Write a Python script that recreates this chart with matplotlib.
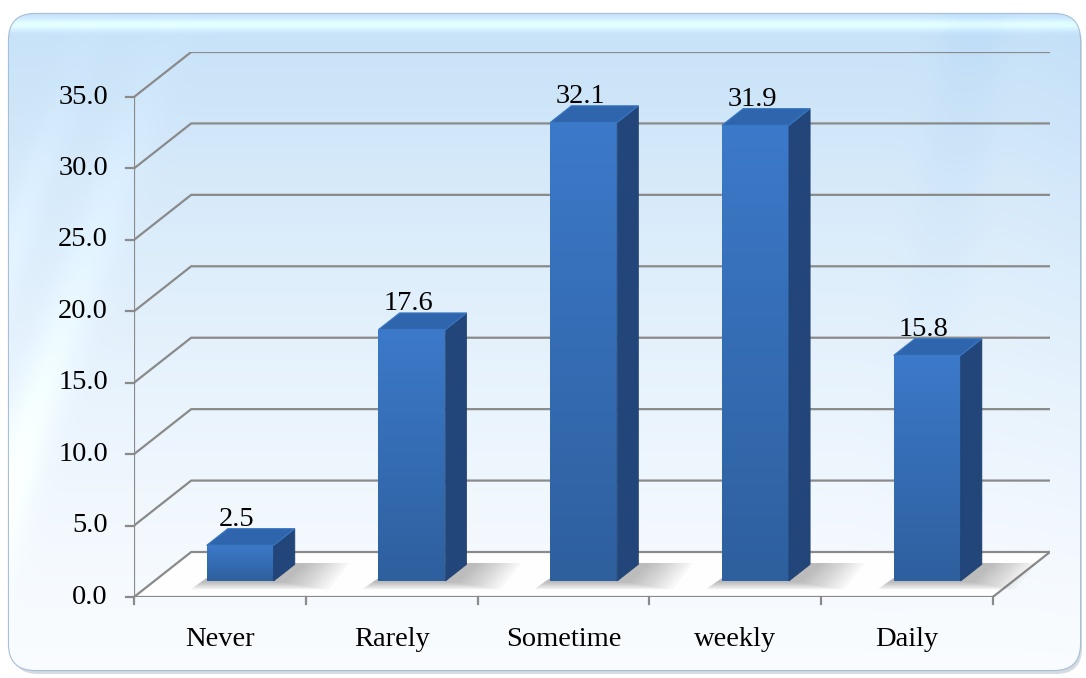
import matplotlib.pyplot as plt
import numpy as np
from matplotlib.patches import FancyBboxPatch, Polygon

# survey frequencies (%)
categories = ['Never', 'Rarely', 'Sometime', 'weekly', 'Daily']
values = [2.5, 17.6, 32.1, 31.9, 15.8]
y_ticks = [0, 5, 10, 15, 20, 25, 30, 35]

W, H = 1086, 678
plt.rcParams['font.family'] = ['Liberation Serif', 'DejaVu Serif']
FS = 20.5

fig = plt.figure(figsize=(W / 100, H / 100), dpi=100)
fig.patch.set_facecolor('white')

# ---- background panel (pixel coords) ----
bg = fig.add_axes([0, 0, 1, 1])
bg.set_xlim(0, W)
bg.set_ylim(H, 0)
bg.axis('off')

yy, xx = np.mgrid[0:H, 0:W].astype(float)
t = (yy / H)[..., None]
top_c = np.array([0.77, 0.88, 0.97])
bot_c = np.array([0.98, 0.99, 1.0])
img = top_c * (1 - t) ** 1.3 + bot_c * (1 - (1 - t) ** 1.3)
# slanted blue band on the right, soft edges
u = xx + 0.15 * yy
band = (1 / (1 + np.exp(-(u - 950) / 8)) * 1 / (1 + np.exp((u - 1010) / 8)))[..., None]
img = img - band * (1 - t) ** 1.5 * 0.07 * np.array([0.5, 0.3, 0.05])
right = np.clip((xx - 1000) / 80, 0, 1)[..., None] * (1 - t) * 0.05
img = img - right * np.array([0.4, 0.2, 0.0])
# soft white streaks on the left
v = xx - 0.35 * (H - yy)
streak = (np.exp(-((v + 60) / 25) ** 2) + np.exp(-((v + 140) / 18) ** 2))[..., None]
img = img + streak * 0.08 * t
# glossy light band along the top edge
gl = np.exp(-((yy - 24) / 6) ** 2)[..., None]
img = img + gl * 0.12
img = np.clip(img, 0, 1)

# drop shadow + panel
shadow = FancyBboxPatch((12, 18), 1070, 656, boxstyle='round,pad=0,rounding_size=26',
                        facecolor='#b9c3cc', edgecolor='none', alpha=0.6)
bg.add_patch(shadow)
panel = FancyBboxPatch((9, 14), 1071, 656, boxstyle='round,pad=0,rounding_size=26',
                       facecolor='none', edgecolor='#a5bfd6', linewidth=1.6)
bg.add_patch(panel)
im = bg.imshow(img, extent=[0, W, H, 0], aspect='auto', zorder=1)
im.set_clip_path(panel)
bg.set_xlim(0, W)
bg.set_ylim(H, 0)

# ---- chart axes with oblique depth ----
DX, DY = 0.333, 3.15   # wall depth in data units
ax = fig.add_axes([134 / W, (H - 597) / H, (1050 - 134) / W, (597 - 52) / H])
ax.axis('off')
ax.patch.set_alpha(0)
n = len(categories)
grid_c = '#8a8a8a'
lw = 1.6

# floor
floor = Polygon([(0, 0), (n, 0), (n + DX, DY), (DX, DY)], closed=True,
                facecolor='white', edgecolor='none', alpha=0.95, zorder=1)
ax.add_patch(floor)

# back wall gridlines
for yt in y_ticks:
    ax.plot([0, DX, n + DX], [yt, yt + DY, yt + DY], color=grid_c, lw=lw,
            solid_capstyle='butt', zorder=2)
ax.plot([n, n + DX], [0, DY], color=grid_c, lw=lw, zorder=2)
ax.plot([0, n], [0, 0], color=grid_c, lw=lw, zorder=2)
ax.plot([0, 0], [0, y_ticks[-1]], color=grid_c, lw=lw, zorder=2)

# tick marks and labels
for yt in y_ticks:
    ax.plot([-0.047, 0], [yt, yt], color=grid_c, lw=lw, clip_on=False)
    ax.text(-0.152, yt, f'{yt:.1f}', ha='right', va='center', fontsize=FS,
            clip_on=False)
for i in range(n + 1):
    ax.plot([i, i], [0, -0.5], color=grid_c, lw=lw, clip_on=False)
for i, cat in enumerate(categories):
    ax.text(i + 0.5, -3.0, cat, ha='center', va='center', fontsize=FS, clip_on=False)

# bars
bw = 0.39
d0, dd = 0.355, 0.37
grad = np.linspace(0, 1, 100)[:, None]
front_top = np.array([0.235, 0.475, 0.790])
front_bot = np.array([0.180, 0.375, 0.620])
front_img = (front_top * (1 - grad)[..., None] + front_bot * grad[..., None])

for i, val in enumerate(values):
    x0 = i + 0.5 - bw / 2 + d0 * DX
    x1 = x0 + bw
    y0 = d0 * DY
    y1 = val + y0
    ox, oy = dd * DX, dd * DY

    # soft shadow on the floor, layered from wide/faint to tight
    for k in range(12, 0, -1):
        e = 0.009 * k
        sh = Polygon([(x0 - 0.03 - e * 0.6, y0 - 0.05 - e * 5),
                      (x1 + ox * 0.4 + e * 2.5, y0 - 0.05 - e * 5),
                      (x1 + ox + 0.05 + e * 2.5, y0 + oy + 0.1),
                      (x0 + ox, y0 + oy + 0.1)],
                     closed=True, facecolor='#505050', edgecolor='none',
                     alpha=0.035, zorder=3)
        ax.add_patch(sh)

    front = Polygon([(x0, y0), (x1, y0), (x1, y1), (x0, y1)], closed=True,
                    facecolor='none', edgecolor='none', zorder=5)
    ax.add_patch(front)
    fim = ax.imshow(front_img, extent=[x0, x1, y0, y1], origin='upper',
                    aspect='auto', zorder=5)
    fim.set_clip_path(front)

    side = Polygon([(x1, y0), (x1 + ox, y0 + oy), (x1 + ox, y1 + oy), (x1, y1)],
                   closed=True, facecolor='#23467a', edgecolor='#1f3e6c', lw=0.5,
                   zorder=5)
    ax.add_patch(side)
    topf = Polygon([(x0, y1), (x1, y1), (x1 + ox, y1 + oy), (x0 + ox, y1 + oy)],
                   closed=True, facecolor='#2f65ad', edgecolor='#3a78c4', lw=0.8,
                   zorder=5)
    ax.add_patch(topf)

    ax.text(x0 + bw / 2 - 0.02, y1 + oy + 0.2, f'{val:.1f}', ha='center',
            va='baseline', fontsize=FS, zorder=6, clip_on=False)

ax.set_xlim(0, n + DX)
ax.set_ylim(0, y_ticks[-1] + DY)

fig.savefig('out.png', dpi=100)
